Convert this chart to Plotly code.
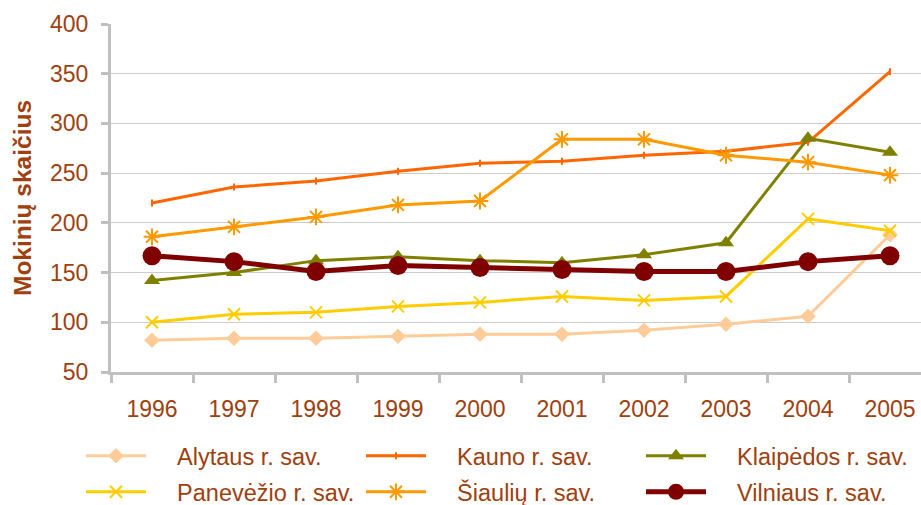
import plotly.graph_objects as go

years = ["1996", "1997", "1998", "1999", "2000", "2001", "2002", "2003", "2004", "2005"]

alytaus = [82, 84, 84, 86, 88, 88, 92, 98, 106, 188]
kauno = [220, 236, 242, 252, 260, 262, 268, 272, 281, 352]
klaipedos = [142, 150, 162, 166, 162, 160, 168, 180, 285, 271]
panevezio = [100, 108, 110, 116, 120, 126, 122, 126, 204, 192]
siauliu = [186, 196, 206, 218, 222, 284, 284, 268, 261, 248]
vilniaus = [167, 161, 151, 157, 155, 153, 151, 151, 161, 167]

names = ["Alytaus r. sav.", "Kauno r. sav.", "Klaipėdos r. sav.",
         "Panevėžio r. sav.", "Šiaulių r. sav.", "Vilniaus r. sav."]

TEXT = "#A0400E"
FONT = "Arial, Liberation Sans, sans-serif"
PAD = "\u00a0" * 4

series = [
    (names[0], alytaus, "#FFCC99", 3, dict(symbol="diamond", size=12)),
    (names[1], kauno, "#FF6600", 3, dict(symbol="line-ns", size=5, line=dict(width=2, color="#FF6600"))),
    (names[2], klaipedos, "#808000", 3, dict(symbol="triangle-up", size=14)),
    (names[3], panevezio, "#FFCC00", 3, dict(symbol="x-thin-open", size=12, line=dict(width=2, color="#FFCC00"))),
    (names[4], siauliu, "#FF9900", 3, dict(symbol="asterisk-open", size=14, line=dict(width=2, color="#FF9900"))),
    (names[5], vilniaus, "#800000", 5, dict(symbol="circle", size=19)),
]

# legend slots: column left x (px) and row centre y (px)
col_x = [81, 361, 641]
row_y = [456, 492]

fig = go.Figure()
legends = {}
for i, (name, vals, color, lw, mk) in enumerate(series):
    key = "legend" if i == 0 else f"legend{i + 1}"
    fig.add_trace(go.Scatter(
        x=years, y=vals, name=PAD + name, mode="lines+markers",
        line=dict(color=color, width=lw),
        marker=dict(color=color, **mk),
        legend=key, showlegend=True,
    ))
    legends[key] = dict(
        orientation="h", xref="container", yref="container",
        xanchor="left", yanchor="middle",
        x=col_x[i % 3] / 921, y=1 - row_y[i // 3] / 505,
        font=dict(family=FONT, size=23.5, color=TEXT),
        itemwidth=60, bgcolor="rgba(0,0,0,0)", visible=True,
    )

fig.update_layout(
    width=921, height=505,
    showlegend=True,
    margin=dict(l=111, r=0, t=24, b=133),
    paper_bgcolor="white", plot_bgcolor="white",
    font=dict(family=FONT, size=23, color=TEXT),
    xaxis=dict(
        type="category", range=[-0.5, 9.378], tickson="boundaries",
        showline=True, linecolor="#C0C0C0", linewidth=3,
        ticks="outside", ticklen=8, tickwidth=3, tickcolor="#C0C0C0",
        showgrid=False, tickfont=dict(size=23, color=TEXT),
        ticklabelstandoff=14,
    ),
    yaxis=dict(
        range=[50, 400], dtick=50, tick0=50,
        showline=True, linecolor="#C0C0C0", linewidth=3,
        ticks="outside", ticklen=7, tickwidth=3, tickcolor="#C0C0C0",
        showgrid=True, gridcolor="#CCCCCC", gridwidth=1,
        zeroline=False, tickfont=dict(size=23, color=TEXT),
        ticklabelstandoff=8,
        title=dict(text="<b>Mokinių skaičius</b>", font=dict(size=24.5, color=TEXT), standoff=12),
    ),
    **legends,
)

fig.write_html("out.html", config={"displayModeBar": False},
               post_script="document.body.style.margin='0';document.body.style.padding='0';")
